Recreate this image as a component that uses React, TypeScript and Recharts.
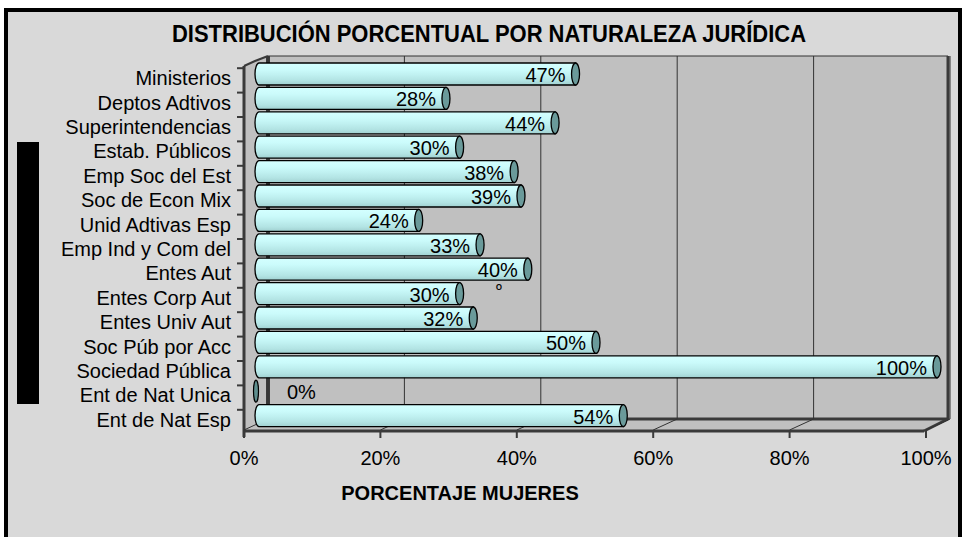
import React from 'react';
import { BarChart, Bar, XAxis, YAxis, CartesianGrid, LabelList } from 'recharts';

const categories = [
  'Ministerios',
  'Deptos Adtivos',
  'Superintendencias',
  'Estab. Públicos',
  'Emp Soc del Est',
  'Soc de Econ Mix',
  'Unid Adtivas Esp',
  'Emp Ind y Com del',
  'Entes Aut',
  'Entes Corp Aut',
  'Entes Univ Aut',
  'Soc Púb por Acc',
  'Sociedad Pública',
  'Ent de Nat Unica',
  'Ent de Nat Esp',
];
const womenPct = [47, 28, 44, 30, 38, 39, 24, 33, 40, 30, 32, 50, 100, 0, 54];
const xTicks = [0, 20, 40, 60, 80, 100];
const notes: Record<string, string> = { 'Entes Aut': 'º' };

const title = 'DISTRIBUCIÓN PORCENTUAL POR NATURALEZA JURÍDICA';
const xTitle = 'PORCENTAJE MUJERES';

const data = categories.map((name, i) => ({ name, value: womenPct[i] }));

const FONT = "'Liberation Sans', Arial, sans-serif";
const W = 965;
const H = 537;
const EDGE = '#3a3a3a';

// 3D frame geometry (decoration)
const FRONT_L = 244;
const BACK_L = 268;
const BACK_R = 948;
const FRONT_R = 924;
const BACK_T = 56;
const BACK_B = 419;
const FRONT_B = 431;
const FRONT_T = 66;

const DEPTH_BACK = 13; // bar scale -> back wall
const DEPTH_FRONT = -11; // bar scale -> front axis

const CylBar = (props: any) => {
  const { x, y, width, height } = props;
  if (!height || height <= 0) return null;
  const ry = height / 2;
  const rx = 4;
  if (width < rx) {
    return (
      <ellipse cx={x + 1} cy={y + ry} rx={2.5} ry={ry} fill="#5f8f8f" stroke="#000" strokeWidth={1.2} />
    );
  }
  const d = `M ${x + rx},${y} L ${x + width},${y} L ${x + width},${y + height} L ${x + rx},${y + height} A ${rx} ${ry} 0 0 1 ${x + rx},${y} Z`;
  return (
    <g>
      <path d={d} fill="url(#cylGrad)" stroke="#000" strokeWidth={1.3} />
      <ellipse cx={x + width} cy={y + ry} rx={rx} ry={ry} fill="#6a9a9a" stroke="#000" strokeWidth={1.3} />
    </g>
  );
};

const ValueLabel = (props: any) => {
  const { x, y, width, height, value, index } = props;
  const cy = y + height / 2;
  const txt = `${value}%`;
  const name = categories[index];
  const note = notes[name];
  const small = width < 40;
  return (
    <g>
      <text
        x={small ? x + 32 : x + width - 10}
        y={cy + 8}
        textAnchor={small ? 'start' : 'end'}
        fontFamily={FONT}
        fontSize={20}
        fill="#000"
      >
        {txt}
      </text>
      {note ? (
        <text x={x + width - 29} y={y + height + 15} textAnchor="middle" fontFamily={FONT} fontSize={16} fill="#000">
          {note}
        </text>
      ) : null}
    </g>
  );
};

const YTick = (props: any) => {
  const { y, payload } = props;
  return (
    <g>
      <line x1={237} x2={FRONT_L} y1={y - 6} y2={y - 6} stroke={EDGE} strokeWidth={2} />
      <text x={231} y={y + 11} textAnchor="end" fontFamily={FONT} fontSize={20} fill="#000">
        {payload.value}
      </text>
    </g>
  );
};

const XTick = (props: any) => {
  const { x, payload } = props;
  const fx = x + DEPTH_FRONT;
  return (
    <g>
      <line x1={fx} x2={fx} y1={FRONT_B} y2={FRONT_B + 7} stroke={EDGE} strokeWidth={2} />
      <text x={fx} y={465} textAnchor="middle" fontFamily={FONT} fontSize={20} fill="#000">
        {`${payload.value}%`}
      </text>
    </g>
  );
};

const GridLine = (props: any) => {
  const { x1, index } = props;
  const bx = x1 + DEPTH_BACK;
  const fx = x1 + DEPTH_FRONT;
  return (
    <g key={`gl-${index}`}>
      <line x1={bx} x2={bx} y1={BACK_T} y2={BACK_B} stroke="#333" strokeWidth={1} />
      <line x1={fx} y1={FRONT_B - 1} x2={bx} y2={BACK_B} stroke="#333" strokeWidth={1} />
    </g>
  );
};

const Background = () => (
  <svg width={W} height={H} style={{ position: 'absolute', left: 0, top: 0 }}>
    <defs>
      <linearGradient id="cylGrad" x1="0" y1="0" x2="0" y2="1">
        <stop offset="0" stopColor="#d4ffff" />
        <stop offset="0.3" stopColor="#cbfbfb" />
        <stop offset="0.55" stopColor="#bff0f0" />
        <stop offset="0.8" stopColor="#b2e3e3" />
        <stop offset="1" stopColor="#a0d0d0" />
      </linearGradient>
    </defs>
    <rect x={0} y={0} width={W} height={H} fill="#ffffff" />
    <rect x={6} y={10} width={954} height={H + 20} fill="#d9d9d9" stroke="#000" strokeWidth={4} />
    <text
      x={489}
      y={42}
      textAnchor="middle"
      fontFamily={FONT}
      fontWeight="bold"
      fontSize={23}
      textLength={634}
      lengthAdjust="spacingAndGlyphs"
      fill="#000"
    >
      {title}
    </text>
    <rect x={17} y={142} width={22} height={262} fill="#000" />
    {/* back wall */}
    <rect x={BACK_L} y={BACK_T} width={BACK_R - BACK_L} height={BACK_B - BACK_T} fill="#c0c0c0" />
    {/* left wall */}
    <polygon points={`${FRONT_L},${FRONT_T} ${BACK_L},${BACK_T} ${BACK_L},${BACK_B} ${FRONT_L},${FRONT_B}`} fill="#c0c0c0" />
    {/* floor */}
    <polygon points={`${FRONT_L},${FRONT_B} ${BACK_L},${BACK_B} ${BACK_R},${BACK_B} ${FRONT_R},${FRONT_B}`} fill="#c0c0c0" />
    <line x1={BACK_L} x2={BACK_R} y1={BACK_T} y2={BACK_T} stroke="#333" strokeWidth={1} />
    <line x1={BACK_L} x2={BACK_L} y1={BACK_T} y2={BACK_B} stroke={EDGE} strokeWidth={4} />
    <line x1={BACK_L} x2={BACK_R} y1={BACK_B} y2={BACK_B} stroke={EDGE} strokeWidth={3} />
    <line x1={BACK_R} x2={BACK_R} y1={BACK_T} y2={BACK_B + 1} stroke={EDGE} strokeWidth={3} />
    <line x1={FRONT_R} y1={FRONT_B} x2={BACK_R} y2={BACK_B} stroke={EDGE} strokeWidth={3} />
    <line x1={FRONT_L} x2={FRONT_R} y1={FRONT_B} y2={FRONT_B} stroke={EDGE} strokeWidth={3} />
    <line x1={FRONT_L} x2={FRONT_L} y1={FRONT_T} y2={FRONT_B + 6} stroke={EDGE} strokeWidth={3} />
    <polyline points={`${FRONT_L},${FRONT_T} ${FRONT_L + 11},${FRONT_T - 5} ${BACK_L},${BACK_T}`} fill="none" stroke={EDGE} strokeWidth={2} />
    <text x={460} y={500} textAnchor="middle" fontFamily={FONT} fontWeight="bold" fontSize={20} fill="#000">
      {xTitle}
    </text>
  </svg>
);

export default function App() {
  return (
    <div style={{ position: 'absolute', left: 0, top: 0, width: W, height: H }}>
      <Background />
      <div style={{ position: 'absolute', left: 0, top: 0 }}>
        <BarChart
          width={W}
          height={H}
          data={data}
          layout="vertical"
          margin={{ top: 62, right: 28, bottom: 0, left: 0 }}
          barCategoryGap={1}
        >
          <CartesianGrid horizontal={false} vertical={GridLine} stroke="#333" />
          <XAxis
            type="number"
            domain={[0, 100]}
            ticks={xTicks}
            height={109}
            axisLine={false}
            tickLine={false}
            tick={<XTick />}
            interval={0}
          />
          <YAxis
            type="category"
            dataKey="name"
            width={255}
            axisLine={false}
            tickLine={false}
            tick={<YTick />}
            interval={0}
          />
          <Bar dataKey="value" shape={<CylBar />} isAnimationActive={false}>
            <LabelList dataKey="value" content={<ValueLabel />} />
          </Bar>
        </BarChart>
      </div>
    </div>
  );
}
